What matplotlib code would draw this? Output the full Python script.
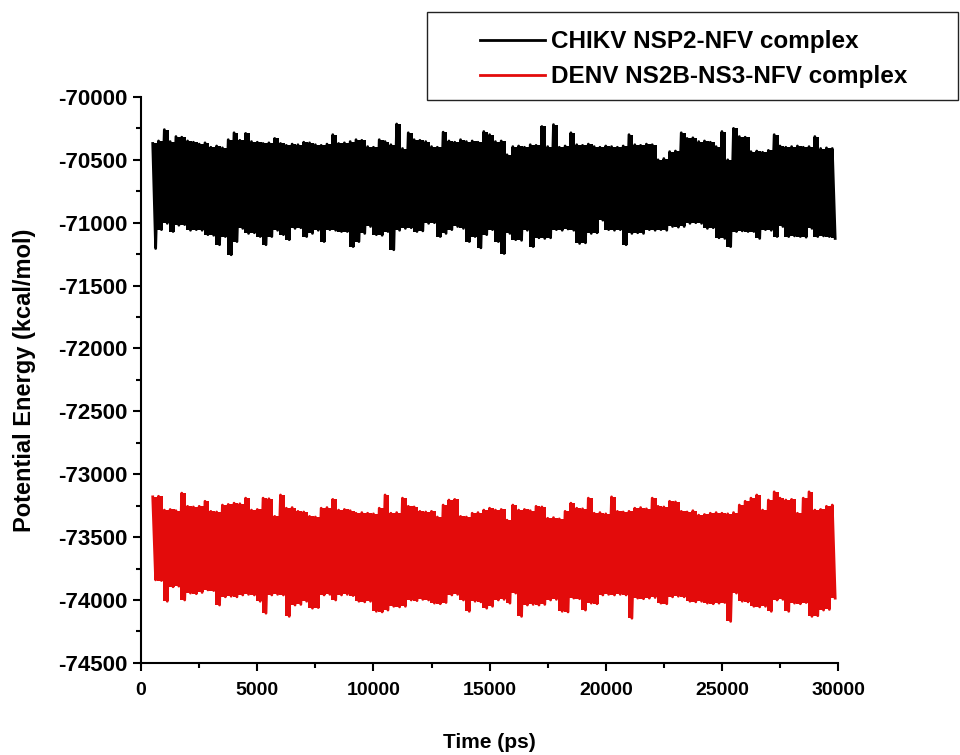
import numpy as np
import matplotlib
matplotlib.use("Agg")
import matplotlib.pyplot as plt
from matplotlib.patches import Rectangle
from matplotlib.ticker import MultipleLocator

plt.rcParams['font.family'] = ['Liberation Sans', 'DejaVu Sans']
plt.rcParams['font.weight'] = 'bold'
plt.rcParams['axes.unicode_minus'] = False

# upper / lower excursion of each trace per 250 ps window
t_start = 500
t_step = 250

chikv_hi = [
    -70370, -70350, -70260, -70355, -70315, -70320, -70350, -70360, -70375, -70365,
    -70400, -70390, -70405, -70340, -70285, -70345, -70290, -70355, -70360, -70370,
    -70365, -70330, -70370, -70385, -70375, -70380, -70360, -70365, -70380, -70385,
    -70375, -70300, -70370, -70365, -70355, -70340, -70345, -70395, -70400, -70340,
    -70355, -70380, -70215, -70410, -70285, -70340, -70345, -70355, -70395, -70400,
    -70280, -70350, -70360, -70340, -70355, -70350, -70360, -70275,
    -70300, -70355, -70350, -70460, -70395, -70390, -70400, -70380, -70385, -70235,
    -70395, -70220, -70400, -70390, -70285, -70380, -70385, -70375, -70395, -70400,
    -70390, -70395, -70400, -70390, -70300, -70380, -70385, -70375, -70380, -70500,
    -70490, -70435, -70430, -70285, -70330, -70325, -70355, -70350, -70360, -70395,
    -70275, -70500, -70250, -70315, -70320, -70435, -70430, -70440, -70425, -70300,
    -70390, -70400, -70395, -70390, -70400, -70395, -70315, -70410, -70405, -70410,
]
chikv_lo = [
    -71205, -71055, -71005, -71070, -71020, -71015, -71060, -71055, -71060, -71095,
    -71100, -71175, -71110, -71255, -71150, -71045, -71085, -71080, -71110, -71175,
    -71110, -71060, -71095, -71135, -71045, -71040, -71110, -71085, -71060, -71150,
    -71055, -71060, -71070, -71070, -71190, -71150, -71085, -71030, -71095, -71100,
    -71070, -71215, -71060, -71045, -71040, -71070, -71065, -71005, -71000, -71110,
    -71085, -71055, -71030, -71045, -71150, -71110, -71200, -71095,
    -71055, -71150, -71245, -71085, -71135, -71140, -71060, -71190, -71120, -71125,
    -71120, -71055, -71060, -71050, -71060, -71165, -71160, -71085, -71080, -70980,
    -71055, -71060, -71055, -71175, -71085, -71080, -71085, -71055, -71060, -71055,
    -71060, -71030, -71035, -71030, -71005, -71000, -71005, -71045, -71040, -71120,
    -71125, -71190, -71070, -71065, -71070, -71070, -71125, -71055, -71060, -71110,
    -71030, -71110, -71105, -71110, -71115, -71045, -71110, -71105, -71110, -71125,
]
denv_hi = [
    -73180, -73175, -73285, -73280, -73290, -73150, -73255, -73260, -73255, -73215,
    -73295, -73300, -73245, -73240, -73230, -73235, -73190, -73285, -73280, -73190,
    -73195, -73335, -73165, -73270, -73265, -73295, -73300, -73335, -73340, -73270,
    -73265, -73200, -73285, -73280, -73290, -73310, -73305, -73310, -73315, -73270,
    -73165, -73310, -73305, -73190, -73255, -73260, -73295, -73300, -73295, -73340,
    -73245, -73205, -73200, -73335, -73340, -73310, -73305, -73285,
    -73270, -73285, -73280, -73365, -73245, -73285, -73280, -73290, -73255, -73260,
    -73350, -73345, -73355, -73295, -73230, -73270, -73275, -73190, -73310, -73305,
    -73315, -73180, -73295, -73300, -73295, -73270, -73265, -73275, -73190, -73255,
    -73260, -73215, -73220, -73295, -73300, -73290, -73325, -73320, -73310, -73305,
    -73310, -73315, -73305, -73245, -73215, -73190, -73165, -73285, -73205, -73140,
    -73190, -73205, -73200, -73310, -73190, -73140, -73285, -73280, -73255, -73245,
]
denv_lo = [
    -73840, -73845, -74010, -73895, -73890, -74000, -73945, -73950, -73940, -73920,
    -73925, -74040, -73975, -73970, -73975, -73960, -73955, -73960, -74010, -74105,
    -73960, -73955, -73960, -74130, -74040, -74035, -74010, -74065, -74060, -73960,
    -73955, -74000, -73960, -73955, -73965, -74010, -74015, -74010, -74090, -74095,
    -74080, -74050, -74055, -74050, -74000, -74005, -73995, -74000, -74025, -74030,
    -74020, -73960, -73955, -74000, -74090, -74010, -74015, -74065,
    -74050, -74000, -73995, -74025, -73945, -74130, -74040, -74035, -74040, -74035,
    -74000, -73995, -74090, -74095, -73985, -73990, -74080, -74025, -74030, -73960,
    -73955, -73960, -73955, -73960, -74145, -73985, -73990, -73985, -73980, -74025,
    -74030, -73975, -73970, -73975, -74010, -74015, -74010, -74025, -74030, -74025,
    -74020, -74170, -73945, -74010, -74015, -74050, -74055, -74050, -74090, -74000,
    -73995, -74090, -74025, -74030, -74020, -74130, -74125, -74080, -74075, -73985,
]

labels = ['CHIKV NSP2-NFV complex', 'DENV NS2B-NS3-NFV complex']
colors = ['black', '#e30b0b']


def trace(hi, lo):
    # alternate the high and low readings along the time axis
    t = t_start + t_step * np.arange(len(hi))
    tt = np.column_stack([t, t + t_step / 2]).ravel()
    yy = np.column_stack([hi, lo]).ravel()
    return t, tt, yy


fig = plt.figure(figsize=(9.6, 7.55), dpi=100)
ax = fig.add_axes([0.147, 0.122, 0.726, 0.7496])

for hi, lo, c, lab in [(chikv_hi, chikv_lo, colors[0], labels[0]),
                       (denv_hi, denv_lo, colors[1], labels[1])]:
    t, tt, yy = trace(hi, lo)
    ax.fill_between(t + t_step / 4, lo, hi, step='mid', color=c, lw=0)
    ax.plot(tt, yy, color=c, lw=2.0, label=lab)

ax.set_xlim(0, 30000)
ax.set_ylim(-74500, -70000)
ax.xaxis.set_major_locator(MultipleLocator(5000))
ax.xaxis.set_minor_locator(MultipleLocator(2500))
ax.yaxis.set_major_locator(MultipleLocator(500))
ax.yaxis.set_minor_locator(MultipleLocator(250))

for s in ['top', 'right']:
    ax.spines[s].set_visible(False)
for s in ['left', 'bottom']:
    ax.spines[s].set_linewidth(1.5)

ax.tick_params(which='major', direction='out', length=6, width=1.5)
ax.tick_params(which='minor', direction='out', length=3.5, width=1.5)
ax.tick_params(axis='y', labelsize=16)
ax.tick_params(axis='x', labelsize=14, pad=8)
for lab in ax.get_xticklabels() + ax.get_yticklabels():
    lab.set_fontweight('bold')

ax.set_xlabel('Time (ps)', fontsize=15, fontweight='bold', labelpad=24)
ax.set_ylabel('Potential Energy (kcal/mol)', fontsize=17, fontweight='bold', labelpad=16)

fig.add_artist(Rectangle((427 / 960, 1 - 100 / 755), 531 / 960, 88 / 755,
                         transform=fig.transFigure, fill=False,
                         edgecolor='#222222', lw=1.0))
fig.legend(loc='upper left', bbox_to_anchor=(0.487, 0.976), frameon=False,
           borderpad=0, handlelength=2.7, handletextpad=0.25, labelspacing=0.5,
           prop={'size': 17.5, 'weight': 'bold'})

fig.savefig('out.png', dpi=100)
